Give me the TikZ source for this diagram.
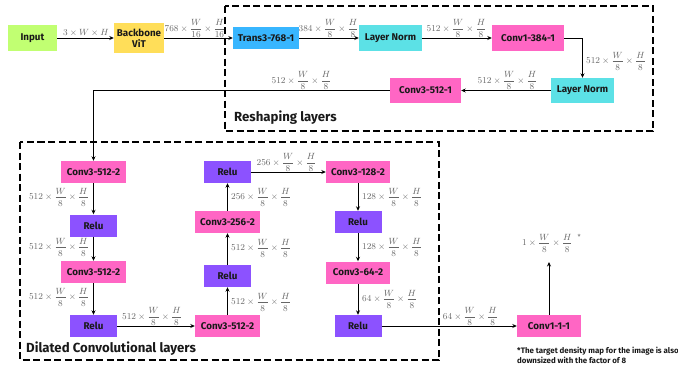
\documentclass[tikz,border=0pt]{standalone}
\usepackage{fontspec}
\setsansfont{Fira Sans}
\usetikzlibrary{arrows.meta}
\definecolor{cgreen}{HTML}{C1FF72}
\definecolor{cyellow}{HTML}{FFDE59}
\definecolor{cblue}{HTML}{38B6FF}
\definecolor{ccyan}{HTML}{5CE1E6}
\definecolor{cpink}{HTML}{FF66C4}
\definecolor{cpurple}{HTML}{8C52FF}
\newcommand{\dimlab}[1]{$\displaystyle #1\times\frac{W}{8}\times\frac{H}{8}$}
\begin{document}
\begin{tikzpicture}[x=1pt,y=-1pt,
  box/.style={inner sep=0pt, text=black!90, font=\sffamily\bfseries\fontsize{9.8}{10.8}\selectfont, align=center},
  cw/.style={box, minimum width=65, minimum height=22},
  rw/.style={box, fill=cpurple, minimum width=47, minimum height=22},
  lab/.style={text=black!60, inner sep=1pt, font=\fontsize{9}{10.5}\selectfont},
  arr/.style={line width=0.9pt, -{Stealth[length=4.5pt,width=4pt]}},
  frame/.style={line width=1.8pt, dash pattern=on 7pt off 3.5pt},
  title/.style={font=\sffamily\bfseries\fontsize{13.2}{15}\selectfont, text=black!90, inner sep=0pt}]
\useasboundingbox (0,0) rectangle (678,370);
\clip (0,0) rectangle (678,370);
% frames
\draw[frame] (225,6) rectangle (653,131);
\draw[frame] (20,142) rectangle (439,360);
\node[title, anchor=west] (tres) at (234,118) {Reshaping layers};
\node[title, anchor=west] (tdil) at (26,349) {Dilated Convolutional layers};
% top row
\node[box, fill=cgreen, minimum width=49, minimum height=26] (input) at (32.5,38) {Input};
\node[box, fill=cyellow, minimum width=50, minimum height=30] (backbone) at (139,38) {Backbone\\ViT};
\node[box, fill=cblue, minimum width=66, minimum height=22] (trans) at (266,38) {Trans3-768-1};
\node[box, fill=ccyan, minimum width=63, minimum height=26] (ln1) at (390.5,38) {Layer Norm};
\node[box, fill=cpink, minimum width=72, minimum height=26] (c384) at (528,38) {Conv1-384-1};
\node[box, fill=ccyan, minimum width=63, minimum height=25] (ln2) at (582.5,90.5) {Layer Norm};
\node[box, fill=cpink, minimum width=71, minimum height=25] (c512a) at (425.5,90.5) {Conv3-512-1};
% dilated
\node[cw, fill=cpink] (ca) at (93.5,172) {Conv3-512-2};
\node[rw] (ra) at (93.5,225.5) {Relu};
\node[cw, fill=cpink] (cb) at (93.5,272) {Conv3-512-2};
\node[rw] (rb) at (93.5,326) {Relu};
\node[cw, fill=cpink] (cc) at (227.5,326) {Conv3-512-2};
\node[rw] (rd) at (227.5,276) {Relu};
\node[cw, fill=cpink] (c256) at (227.5,222) {Conv3-256-2};
\node[rw] (rc) at (227.5,172) {Relu};
\node[cw, fill=cpink, minimum width=64] (c128) at (358,172) {Conv3-128-2};
\node[rw] (re) at (358,222) {Relu};
\node[cw, fill=cpink, minimum width=64] (c64) at (358,272.5) {Conv3-64-2};
\node[rw] (rf) at (358,326) {Relu};
\node[cw, fill=cpink, minimum width=64] (c111) at (549,326) {Conv1-1-1};
\coordinate (out) at (549,262);
% connectors
\draw[arr] (input) -- (backbone);
\draw[arr] (backbone) -- (trans);
\draw[arr] (trans) -- (ln1);
\draw[arr] (ln1) -- (c384);
\draw[arr] (c384.east) -| (ln2.north);
\draw[arr] (ln2) -- (c512a);
\draw[arr] (c512a.west) -| (ca.north);
\draw[arr] (ca) -- (ra);
\draw[arr] (ra) -- (cb);
\draw[arr] (cb) -- (rb);
\draw[arr] (rb) -- (cc);
\draw[arr] (cc) -- (rd);
\draw[arr] (rd) -- (c256);
\draw[arr] (c256) -- (rc);
\draw[arr] (rc) -- (c128);
\draw[arr] (c128) -- (re);
\draw[arr] (re) -- (c64);
\draw[arr] (c64) -- (rf);
\draw[arr] (rf) -- (c111);
\draw[arr] (c111) -- (out);
% labels
\node[lab, anchor=south, font=\fontsize{9.5}{11}\selectfont] (l1) at (86,38) {$3\times W\times H$};
\node[lab, anchor=south] (l2) at (195,38.5) {$\displaystyle 768\times\frac{W}{16}\times\frac{H}{16}$};
\node[lab, anchor=south] (l3) at (328.5,38.5) {\dimlab{384}};
\node[lab, anchor=south] (l4) at (456.5,38.5) {\dimlab{512}};
\node[lab, anchor=west] (l5) at (585,61) {\dimlab{512}};
\node[lab, anchor=south] (l6) at (507.5,91) {\dimlab{512}};
\node[lab, anchor=south] (l7) at (301.5,91) {\dimlab{512}};
\node[lab, anchor=east] (l8) at (90,197) {\dimlab{512}};
\node[lab, anchor=east] (l9) at (90,247) {\dimlab{512}};
\node[lab, anchor=east] (l10) at (90,297) {\dimlab{512}};
\node[lab, anchor=south] (l11) at (152,326.5) {\dimlab{512}};
\node[lab, anchor=west] (l12) at (230,302) {\dimlab{512}};
\node[lab, anchor=west] (l13) at (230,248) {\dimlab{512}};
\node[lab, anchor=west] (l14) at (230,197) {\dimlab{256}};
\node[lab, anchor=south] (l15) at (286.5,172.5) {\dimlab{256}};
\node[lab, anchor=west] (l16) at (361,197) {\dimlab{128}};
\node[lab, anchor=west] (l17) at (361,247) {\dimlab{128}};
\node[lab, anchor=west] (l18) at (361,299) {\dimlab{64}};
\node[lab, anchor=south] (l19) at (470.5,326.5) {\dimlab{64}};
\node[lab, anchor=west] (l20) at (521,243) {\dimlab{1}\hspace{5pt}\raisebox{6pt}{\sffamily\scriptsize *}};
\node[font=\sffamily\bfseries\fontsize{7.9}{10.2}\selectfont, text=black!90, anchor=north west, align=left, inner sep=0pt] (note) at (517,346.5) {*The target density map for the image is also\\downsized with the factor of 8};
\end{tikzpicture}
\end{document}
